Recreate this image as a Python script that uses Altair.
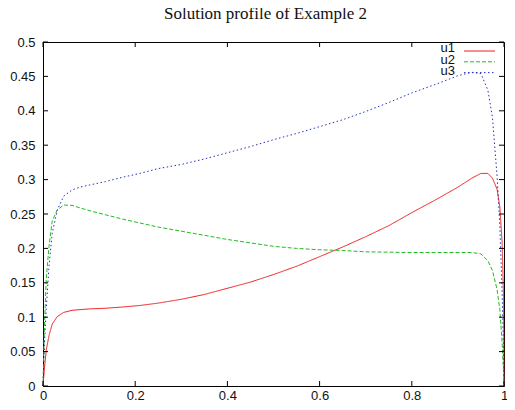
import altair as alt
import pandas as pd

x_vals = [0, 0.003, 0.007, 0.013, 0.02, 0.031, 0.045, 0.063, 0.08, 0.1, 0.135, 0.17, 0.21, 0.25,
          0.3, 0.35, 0.4, 0.45, 0.5, 0.55, 0.6, 0.65, 0.7, 0.75, 0.8, 0.85, 0.9, 0.93, 0.95,
          0.965, 0.975, 0.985, 0.991, 0.996, 0.999, 1.0]
u1 = [0, 0.025, 0.052, 0.073, 0.09, 0.101, 0.107, 0.110, 0.111, 0.112, 0.113, 0.1147, 0.117, 0.1205,
      0.126, 0.133, 0.142, 0.151, 0.162, 0.174, 0.188, 0.202, 0.217, 0.233, 0.252, 0.270, 0.289, 0.302, 0.309,
      0.309, 0.302, 0.286, 0.26, 0.208, 0.13, 0]
u2 = [0, 0.085, 0.155, 0.203, 0.24, 0.256, 0.263, 0.2625, 0.259, 0.255, 0.249, 0.243, 0.237, 0.231,
      0.225, 0.219, 0.213, 0.208, 0.203, 0.200, 0.198, 0.197, 0.195, 0.1945, 0.194, 0.194, 0.194, 0.194, 0.192,
      0.182, 0.168, 0.14, 0.111, 0.062, 0.02, 0]
u3 = [0, 0.06, 0.111, 0.174, 0.222, 0.256, 0.276, 0.285, 0.289, 0.292, 0.297, 0.303, 0.309, 0.316,
      0.322, 0.330, 0.339, 0.348, 0.358, 0.367, 0.377, 0.387, 0.399, 0.412, 0.426, 0.438, 0.451, 0.456, 0.454,
      0.43, 0.39, 0.305, 0.232, 0.135, 0.05, 0]

series_names = ["u1", "u2", "u3"]
series_colors = ["#ee1c1c", "#22bb22", "#2233bb"]
series_dash = [[1, 0], [4, 2], [1.5, 2.5]]

x_ticks = [0, 0.2, 0.4, 0.6, 0.8, 1.0]
y_ticks = [0, 0.05, 0.1, 0.15, 0.2, 0.25, 0.3, 0.35, 0.4, 0.45, 0.5]

W, H = 461, 344
TL = 5

rows = []
for name, vals in zip(series_names, [u1, u2, u3]):
    for i, (xv, yv) in enumerate(zip(x_vals, vals)):
        rows.append({"x": xv, "y": yv, "series": name, "order": i})
df = pd.DataFrame(rows)

xs = alt.Scale(domain=[0, 1], nice=False)
ys = alt.Scale(domain=[0, 0.5], nice=False)

font = "Liberation Sans"

layers = []
for name, col, dash in zip(series_names, series_colors, series_dash):
    layers.append(
        alt.Chart(df[df.series == name]).mark_line(color=col, strokeWidth=1, strokeDash=dash).encode(
            x=alt.X("x:Q", scale=xs, title=None),
            y=alt.Y("y:Q", scale=ys, title=None),
            order="order:Q",
        )
    )

ydf = pd.DataFrame({"v": y_ticks})
xdf = pd.DataFrame({"v": x_ticks})
tick_layers = [
    alt.Chart(ydf).mark_rule(color="black", strokeWidth=1).encode(
        y=alt.Y("v:Q", scale=ys, title=None), x=alt.value(0), x2=alt.value(TL)),
    alt.Chart(ydf).mark_rule(color="black", strokeWidth=1).encode(
        y=alt.Y("v:Q", scale=ys, title=None), x=alt.value(W - TL), x2=alt.value(W)),
    alt.Chart(xdf).mark_rule(color="black", strokeWidth=1).encode(
        x=alt.X("v:Q", scale=xs, title=None), y=alt.value(H - TL), y2=alt.value(H)),
    alt.Chart(xdf).mark_rule(color="black", strokeWidth=1).encode(
        x=alt.X("v:Q", scale=xs, title=None), y=alt.value(0), y2=alt.value(TL)),
]

legend_layers = []
for i, (name, col, dash) in enumerate(zip(series_names, series_colors, series_dash)):
    ldf = pd.DataFrame({"label": [name]})
    legend_layers.append(
        alt.Chart(ldf).mark_text(align="right", baseline="middle", font=font, fontSize=13, color="#111").encode(
            text="label:N", x=alt.value(412), y=alt.value(6 + i * 11.5)))
    legend_layers.append(
        alt.Chart(ldf).mark_rule(color=col, strokeWidth=1, strokeDash=dash).encode(
            x=alt.value(421), x2=alt.value(452), y=alt.value(9 + i * 10.8)))

chart = alt.layer(*layers, *tick_layers, *legend_layers).properties(
    width=W, height=H,
    title=alt.TitleParams("Solution profile of Example 2", font="Liberation Serif", fontSize=17,
                          fontWeight="normal", anchor="middle", offset=13, dx=-8, color="#111"),
    autosize=alt.AutoSizeParams(type="none"),
    padding={"left": 35, "top": 34, "right": 3, "bottom": 16},
).configure(
    background="white", numberFormat="~g"
).configure_view(
    stroke="black", strokeWidth=1
).configure_axis(
    ticks=False, domain=False, grid=False, labelFont=font, labelFontSize=13,
    labelColor="#111", labelOverlap=False, labelFlush=False,
).configure_axisX(
    tickCount=len(x_ticks) - 1, labelPadding=3
).configure_axisY(
    tickCount=len(y_ticks) - 1, labelPadding=8
)

chart.save("out.html", embed_options={"renderer": "svg", "actions": False})
